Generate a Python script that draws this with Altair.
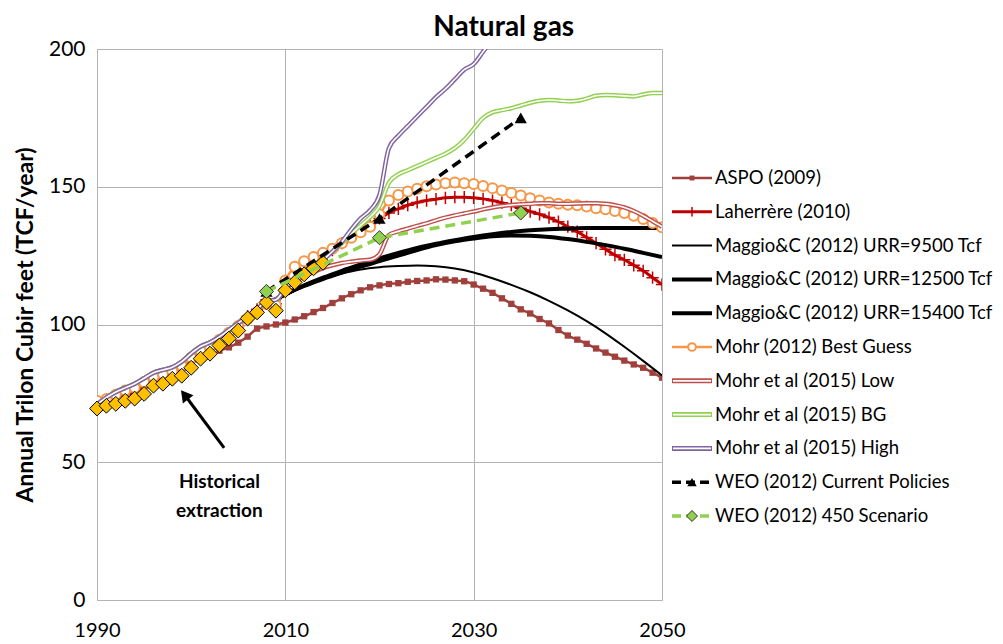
import altair as alt
import pandas as pd

FONT = "Lato"

# ---------------- data ----------------
years_hist = list(range(1990, 2015))
hist = [69.5, 70.5, 71.2, 72.3, 73.1, 74.8, 77.8, 78.5, 80.3, 81.4, 84.3, 87.6, 89.4,
        92.4, 94.9, 97.8, 102.2, 104.4, 108.0, 105.0, 112.4, 115.3, 118.2, 120.4, 122.4]

years_aspo = list(range(2003, 2051))
aspo = [90.5, 91.7, 93.4, 95.6, 98.5, 99.3, 100.0, 100.7, 101.8, 103.0,
        104.5, 106.0, 107.8, 109.5, 111.0, 112.4, 113.5, 114.2, 114.7, 115.0,
        115.5, 115.8, 116.0, 116.4, 116.3, 116.0, 115.7, 114.5, 113.0, 111.5,
        109.5, 107.5, 105.5, 104.0, 102.0, 100.4, 98.0, 96.0, 94.5, 93.0,
        91.3, 89.8, 88.3, 86.9, 85.5, 84.3, 82.5, 80.7]

years_full = list(range(1990, 2051))
laherrere = [71.0, 72.0, 73.0, 74.5, 75.5, 77.0, 79.5, 80.5, 82.0, 83.5,
             86.5, 89.0, 91.0, 94.0, 96.5, 99.5, 103.0, 105.5, 109.0, 107.5,
             113.0, 116.5, 119.5, 122.0, 124.5, 127.0, 129.5, 132.0, 134.5, 136.5,
             138.5, 140.5, 142.0, 143.3, 144.3, 145.0, 145.5, 146.0, 146.2, 146.2,
             146.0, 145.6, 145.0, 144.2, 143.3, 142.2, 141.0, 140.0, 138.8, 137.3,
             135.5, 133.7, 131.6, 129.5, 127.3, 125.2, 123.5, 121.5, 119.5, 117.0, 114.5]

years_maggio = list(range(2008, 2051, 2))
maggio_9500 = [107.0, 110.5, 114.0, 116.5, 118.5, 120.0, 120.8, 121.2, 121.4, 121.1, 120.3,
               118.9, 116.8, 114.4, 111.7, 108.6, 105.1, 101.2, 96.8, 91.9, 86.8, 81.5]
maggio_12500 = [107.5, 111.0, 114.0, 116.5, 118.8, 121.0, 123.0, 125.0, 127.0, 128.8, 130.2,
                131.2, 132.0, 132.3, 132.2, 131.8, 131.0, 130.0, 128.8, 127.5, 126.0, 124.5]
maggio_15400 = [107.5, 111.0, 114.2, 117.0, 119.5, 121.8, 124.0, 126.0, 127.8, 129.3, 130.6,
                131.8, 132.8, 133.6, 134.2, 134.6, 134.8, 135.0, 135.0, 135.0, 135.0, 135.0]

mohr2012 = [72.3, 73.0, 74.5, 76.0, 77.0, 79.0, 81.0, 82.0, 83.0, 85.0,
            88.0, 90.5, 92.0, 94.5, 97.0, 99.5, 102.0, 104.5, 107.5, 107.0,
            116.0, 121.0, 123.0, 124.5, 126.0, 127.5, 129.5, 131.5, 133.5, 135.5,
            140.0, 145.0, 147.0, 148.3, 149.3, 150.2, 150.8, 151.3, 151.5, 151.3,
            151.0, 150.3, 149.5, 148.6, 147.7, 146.8, 145.8, 145.0, 144.3, 143.8,
            143.5, 143.3, 142.8, 142.2, 141.8, 141.2, 140.5, 139.5, 138.3, 136.8, 135.3]

years_m15_early = list(range(1990, 2011))
mohr15_early = [71.0, 73.5, 75.5, 77.0, 78.5, 80.5, 82.5, 83.5, 84.5, 86.5,
                89.5, 92.0, 93.5, 95.5, 98.0, 100.5, 103.0, 105.5, 108.5, 109.0, 113.0]
years_m15_tail = list(range(2011, 2051))
mohr15_low = [115.5, 117.5, 119.0, 120.5, 121.5, 122.3, 122.8, 123.2, 123.5, 125.5,
              132.5, 133.8, 134.8, 135.8, 136.7, 137.8, 138.8, 139.6, 140.3, 141.0,
              141.8, 142.5, 143.0, 143.4, 143.6, 143.8, 144.0, 144.0, 143.8, 143.8,
              143.9, 144.0, 144.0, 143.8, 143.3, 142.5, 141.2, 139.5, 137.5, 135.5]
mohr15_bg = [116.5, 119.0, 121.5, 124.0, 126.5, 129.5, 133.0, 136.0, 139.0, 143.0,
             151.5, 154.5, 156.0, 157.5, 159.0, 160.5, 162.0, 164.0, 167.0, 171.0,
             175.0, 177.0, 177.8, 178.5, 179.5, 180.5, 181.2, 181.5, 181.3, 181.0,
             181.2, 182.0, 183.0, 183.3, 183.2, 183.0, 182.8, 183.5, 184.0, 184.0]
years_high_tail = list(range(2011, 2033))
mohr15_high = [116.5, 119.5, 121.5, 123.5, 126.5, 130.0, 134.5, 138.5, 141.5, 147.0,
               164.0, 168.5, 172.0, 175.5, 179.0, 182.5, 185.5, 189.0, 192.5, 194.5, 199.0, 203.5]

years_weo = [2008, 2020, 2035]
weo_cp = [112.0, 138.5, 175.0]
weo_450 = [112.0, 131.5, 140.5]

names = ["ASPO (2009)", "Laherrère (2010)", "Maggio&C (2012) URR=9500 Tcf",
         "Maggio&C (2012) URR=12500 Tcf", "Maggio&C (2012) URR=15400 Tcf",
         "Mohr (2012) Best Guess", "Mohr et al (2015) Low", "Mohr et al (2015) BG",
         "Mohr et al (2015) High", "WEO (2012) Current Policies", "WEO (2012) 450 Scenario"]

annot_lines = ["Historical", "extraction"]
annot_year = 2003.0
annot_values = [43.0, 32.2]
arrow_tail = (2003.5, 55.2)
arrow_tip = (1999.3, 74.5)

# ---------------- styles ----------------
C_ASPO = "#A0403C"
C_LAH = "#C00000"
C_ORANGE = "#F79646"
C_LOW = "#C0504D"
C_GREEN = "#92D050"
C_PURPLE = "#8064A2"
PLUS = "M0,-1L0,1M-1,0L1,0"

styles = {
    names[0]: dict(color=C_ASPO, width=2.5, marker=dict(shape="square", size=40, filled=True, color=C_ASPO)),
    names[1]: dict(color=C_LAH, width=3, marker=dict(shape=PLUS, size=150, filled=False, stroke=C_LAH, strokeWidth=1.5)),
    names[2]: dict(color="black", width=2),
    names[3]: dict(color="black", width=4),
    names[4]: dict(color="black", width=4),
    names[5]: dict(color=C_ORANGE, width=2.5, marker=dict(shape="circle", size=100, filled=True, fill="white", stroke=C_ORANGE, strokeWidth=2)),
    names[6]: dict(color=C_LOW, width=4.5, double=True),
    names[7]: dict(color=C_GREEN, width=4.5, double=True),
    names[8]: dict(color=C_PURPLE, width=4.5, double=True),
    names[9]: dict(color="black", width=3.5, dash=[10, 6], marker=dict(shape="triangle-up", size=150, filled=True, color="black")),
    names[10]: dict(color=C_GREEN, width=3.5, dash=[10, 6], marker=dict(shape="diamond", size=200, filled=True, fill=C_GREEN, stroke="#333333", strokeWidth=1)),
}

series = {
    names[0]: (years_aspo, aspo),
    names[1]: (years_full, laherrere),
    names[2]: (years_maggio, maggio_9500),
    names[3]: (years_maggio, maggio_12500),
    names[4]: (years_maggio, maggio_15400),
    names[5]: (years_full, mohr2012),
    names[6]: (years_m15_early + years_m15_tail, mohr15_early + mohr15_low),
    names[7]: (years_m15_early + years_m15_tail, mohr15_early + mohr15_bg),
    names[8]: (years_m15_early + years_high_tail, mohr15_early + mohr15_high),
    names[9]: (years_weo, weo_cp),
    names[10]: (years_weo, weo_450),
}

GRID = "#B3B3B3"
X = alt.X("year:Q", scale=alt.Scale(domain=[1990, 2050], nice=False, zero=False),
          axis=alt.Axis(values=[1990, 2010, 2030, 2050], title=None, format="d",
                        labelFontSize=20, labelFont=FONT, labelColor="black", labelPadding=20,
                        ticks=False, grid=True, gridColor=GRID, domainColor=GRID,
                        labelFlush=False))
Y = alt.Y("value:Q", scale=alt.Scale(domain=[0, 200], nice=False),
          axis=alt.Axis(values=[0, 50, 100, 150, 200], title="Annual Trilon Cubir feet (TCF/year)",
                        titleFont=FONT, titleFontSize=23, titleFontWeight="bold", titleColor="black",
                        titlePadding=11, labelFontSize=21, labelFont=FONT, labelColor="black",
                        labelPadding=12, ticks=False, grid=True, gridColor=GRID, domainColor=GRID))


def frame(years, values):
    return pd.DataFrame({"year": years, "value": values})


def main_layers(name):
    st = styles[name]
    df = frame(*series[name])
    base = alt.Chart(df).encode(x=X, y=Y)
    line_kw = dict(color=st["color"], strokeWidth=st["width"], clip=True, interpolate="monotone")
    if "dash" in st:
        line_kw["strokeDash"] = st["dash"]
        line_kw["interpolate"] = "linear"
    out = [base.mark_line(**line_kw)]
    if st.get("double"):
        out.append(base.mark_line(color="white", strokeWidth=1.6, clip=True, interpolate="monotone"))
    if "marker" in st:
        out.append(base.mark_point(opacity=1, clip=True, **st["marker"]))
    return out


layers = []
for n in names[:9]:
    layers += main_layers(n)

hist_df = frame(years_hist, hist)
layers.append(alt.Chart(hist_df).mark_point(shape="diamond", size=220, filled=True, fill="#FFC000",
                                            stroke="black", strokeWidth=1, opacity=1)
              .encode(x=X, y=Y))
for n in names[9:]:
    layers += main_layers(n)

annot_df = pd.DataFrame({"year": [annot_year] * 2, "value": annot_values, "txt": annot_lines})
layers.append(alt.Chart(annot_df).mark_text(font=FONT, fontSize=19, fontWeight="bold", color="black")
              .encode(x=X, y=Y, text="txt:N"))
arrow_df = pd.DataFrame({"year": [arrow_tail[0]], "value": [arrow_tail[1]],
                         "year2": [arrow_tip[0]], "value2": [arrow_tip[1]]})
layers.append(alt.Chart(arrow_df).mark_rule(color="black", strokeWidth=3)
              .encode(x=X, y=Y, x2="year2:Q", y2="value2:Q"))
tip_df = pd.DataFrame({"year": [arrow_tip[0]], "value": [arrow_tip[1]]})
layers.append(alt.Chart(tip_df).mark_point(shape="triangle-up", size=180, angle=322, filled=True,
                                           color="black", opacity=1)
              .encode(x=X, y=Y))

main = alt.layer(*layers).properties(width=565, height=551)

# ---------------- legend panel ----------------
LY = alt.Y("name:N", scale=alt.Scale(type="point", domain=names, range=[129, 467], padding=0), axis=None)


def legend_layers(name):
    st = styles[name]
    d = alt.Chart(pd.DataFrame({"name": [name]}))
    kw = dict(color=st["color"], strokeWidth=st["width"] if not st.get("double") else 5)
    if "dash" in st:
        kw["strokeDash"] = [9, 5]
    out = [d.mark_rule(**kw).encode(y=LY, x=alt.value(0), x2=alt.value(40))]
    if st.get("double"):
        out.append(d.mark_rule(color="white", strokeWidth=1.8).encode(y=LY, x=alt.value(1), x2=alt.value(39)))
    if "marker" in st:
        mk = dict(st["marker"])
        mk["size"] = mk["size"] * 0.6
        out.append(d.mark_point(opacity=1, **mk).encode(y=LY, x=alt.value(20)))
    out.append(d.mark_text(align="left", baseline="middle", font=FONT, fontSize=18.5, color="black")
               .encode(y=LY, x=alt.value(43), text="name:N"))
    return out


leg_layers = []
for n in names:
    leg_layers += legend_layers(n)
legend = alt.layer(*leg_layers).properties(width=290, height=551)

chart = alt.hconcat(main, legend, spacing=10, bounds="flush").properties(
    title=alt.TitleParams("Natural gas", font=FONT, fontSize=28, fontWeight="bold",
                          anchor="middle", color="black", offset=-4),
    padding={"left": 6, "top": 6, "right": 0, "bottom": 0},
).configure_view(stroke=None)

chart.save("out.html", embed_options={"renderer": "svg", "actions": False})
